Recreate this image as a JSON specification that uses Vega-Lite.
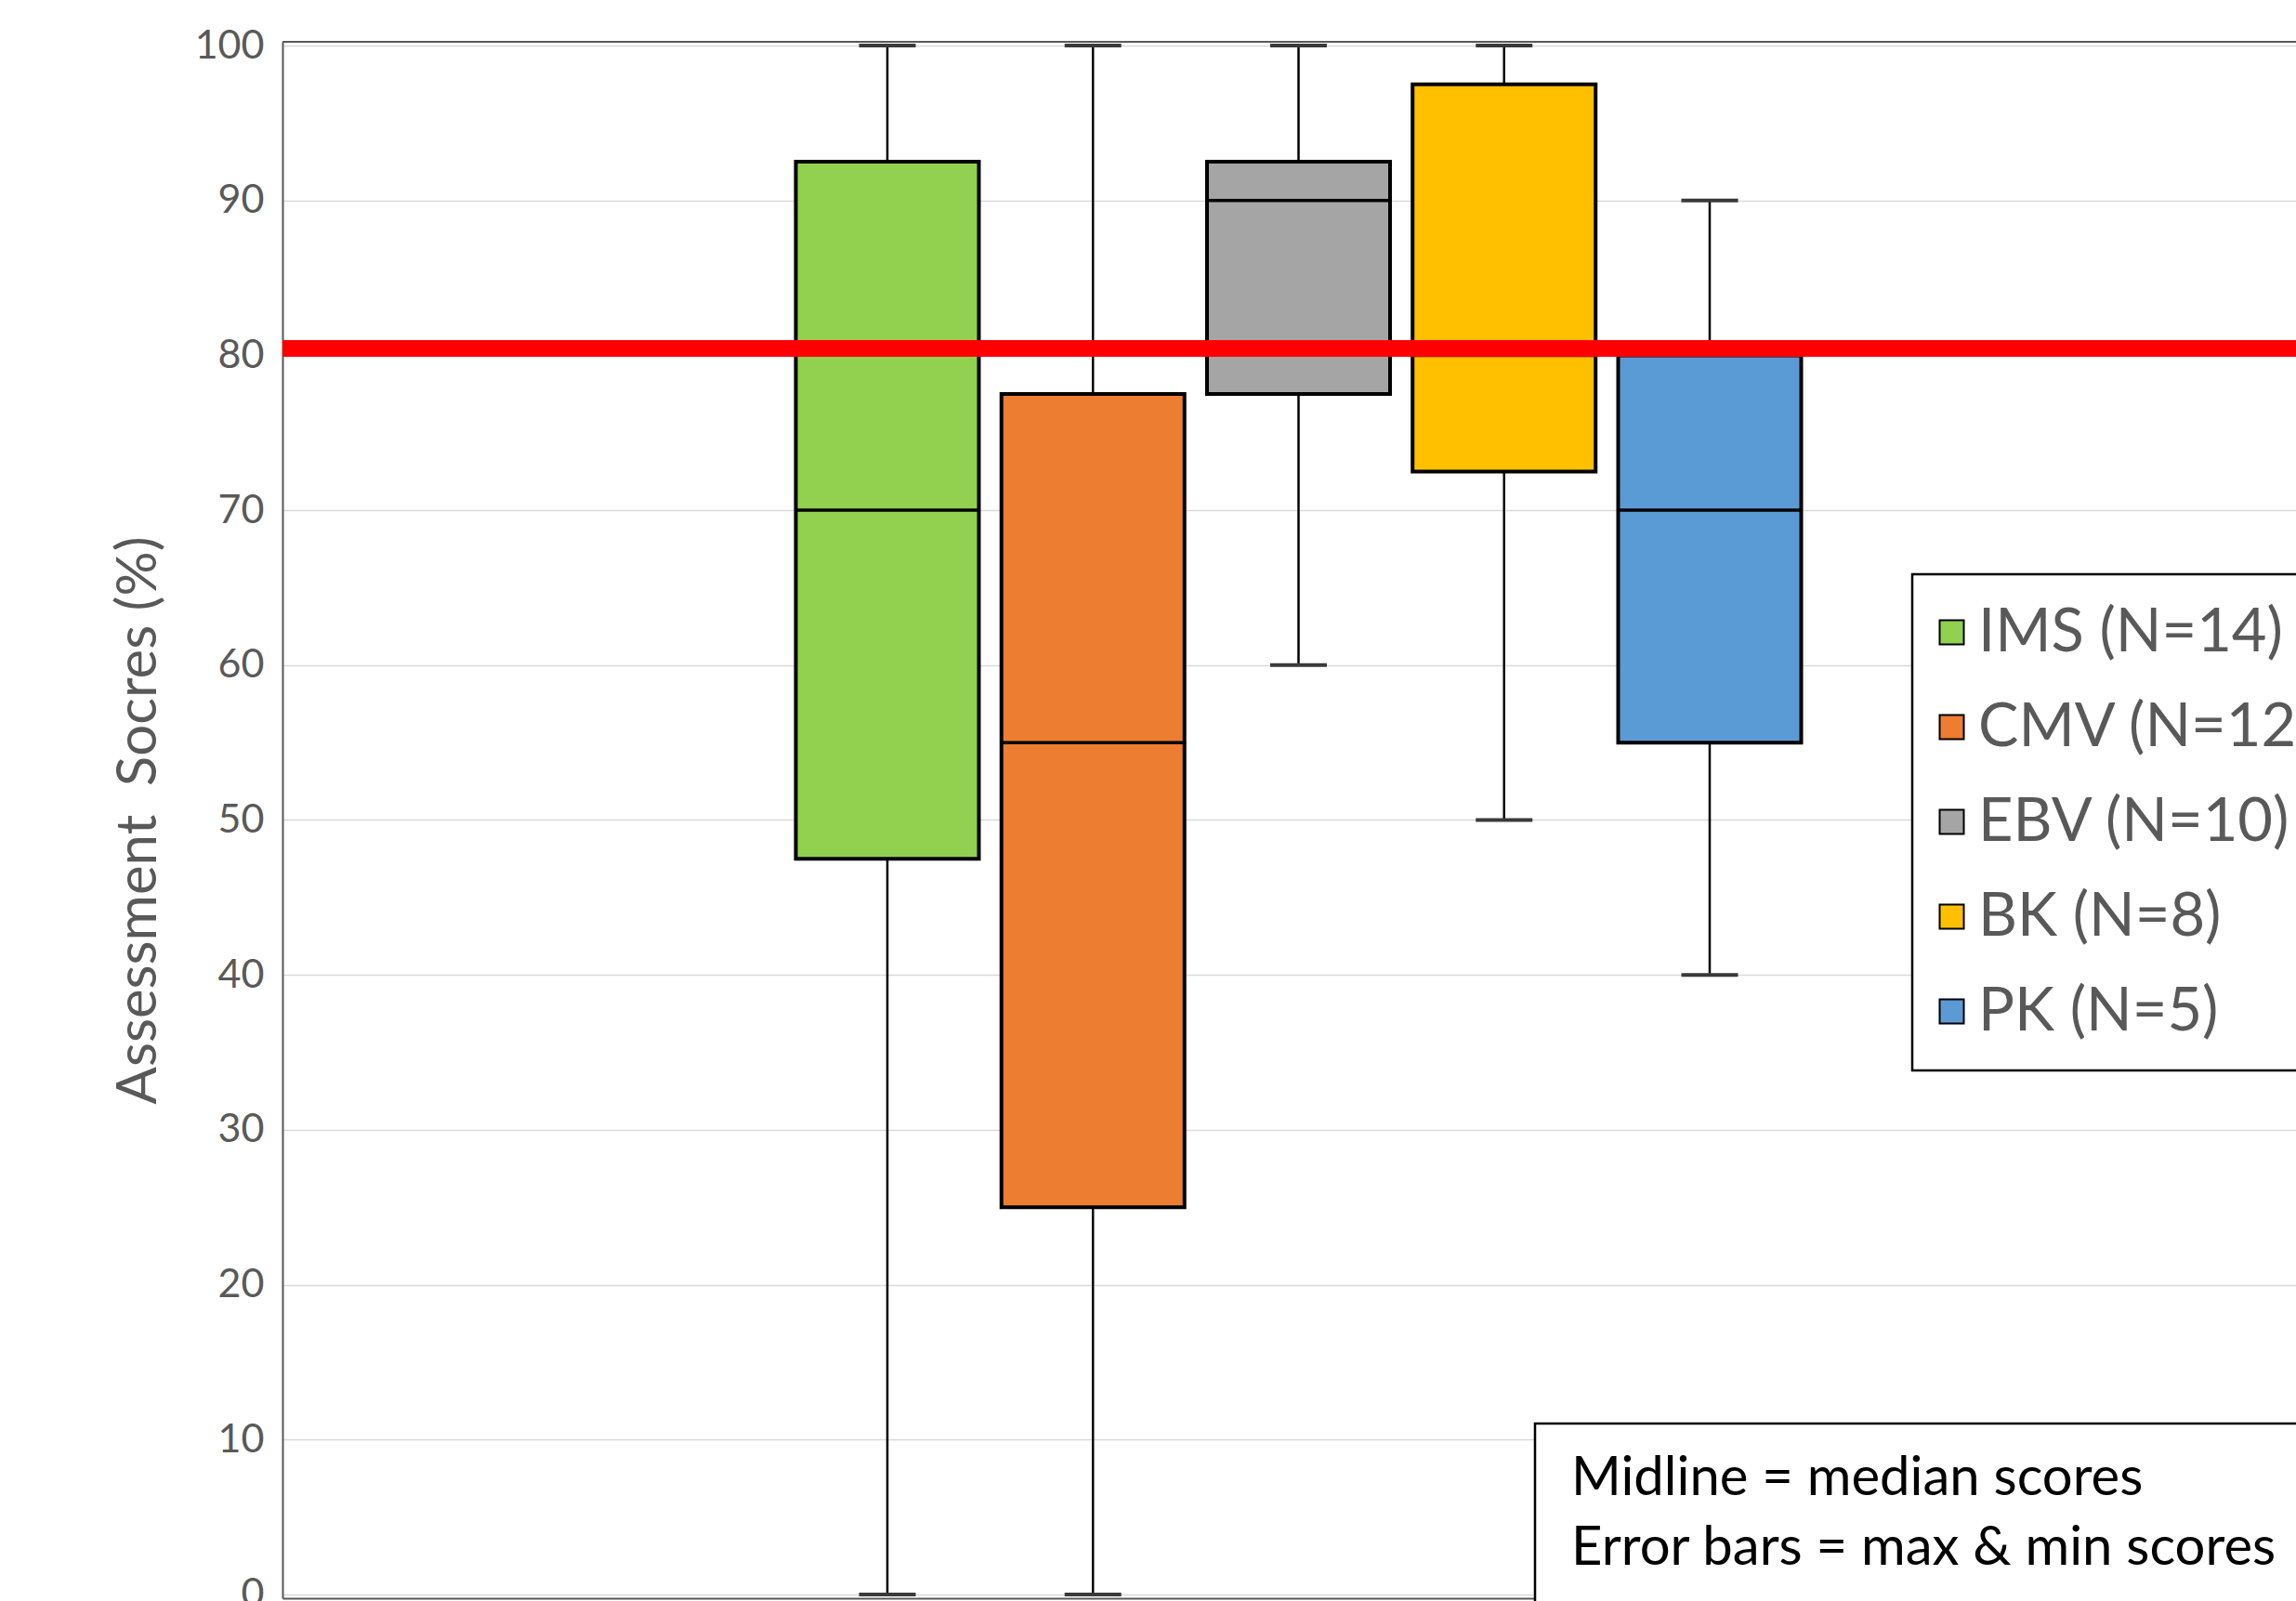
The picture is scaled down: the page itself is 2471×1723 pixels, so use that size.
{
  "$schema": "https://vega.github.io/schema/vega-lite/v6.json",
  "usermeta": {"embedOptions": {"actions": false}},
  "autosize": {"type": "none"},
  "width": 2167,
  "height": 1675,
  "padding": {"left": 304, "top": 45, "right": 0, "bottom": 3},
  "background": "white",
  "config": {
    "view": {"stroke": null},
    "font": "Lato",
    "axis": {"labelFont": "Lato", "titleFont": "Lato"},
    "legend": {"strokeWidth": 2.5}
  },
  "datasets": {
    "boxes": [
      {"group": "IMS (N=14)", "min": 0, "q1": 47.5, "median": 70, "q3": 92.5, "max": 100},
      {"group": "CMV (N=12)", "min": 0, "q1": 25, "median": 55, "q3": 77.5, "max": 100},
      {"group": "EBV (N=10)", "min": 60, "q1": 77.5, "median": 90, "q3": 92.5, "max": 100},
      {"group": "BK (N=8)", "min": 50, "q1": 72.5, "median": 80, "q3": 97.5, "max": 100},
      {"group": "PK (N=5)", "min": 40, "q1": 55, "median": 70, "q3": 80, "max": 90}
    ],
    "notes": [
      {"note": "Midline = median scores"},
      {"note": "Error bars = max & min scores"}
    ]
  },
  "data": {"name": "boxes"},
  "layer": [
    {
      "mark": {"type": "rule", "color": "black", "strokeWidth": 2.5},
      "encoding": {
        "x": {
          "field": "group", "type": "nominal",
          "scale": {
            "type": "band",
            "domain": ["pad1", "pad2", "IMS (N=14)", "CMV (N=12)", "EBV (N=10)", "BK (N=8)", "PK (N=5)", "pad3", "pad4"],
            "paddingInner": 0.1096, "paddingOuter": 0.452, "align": 0.55
          },
          "axis": {"orient": "bottom", "title": null, "labels": false, "ticks": false, "grid": false, "domain": true, "domainColor": "#595959", "domainWidth": 2}
        },
        "y": {
          "field": "min", "type": "quantitative",
          "scale": {"domain": [-0.24, 100.24], "nice": false, "zero": false},
          "axis": {
            "title": "Assessment\u00a0 Socres (%)",
            "titleFontSize": 60, "titleFontWeight": "normal", "titleColor": "#595959", "titlePadding": 29,
            "values": [0, 10, 20, 30, 40, 50, 60, 70, 80, 90, 100],
            "labelFontSize": 43, "labelColor": "#595959", "labelPadding": 20,
            "ticks": false,
            "domain": true, "domainColor": "#595959", "domainWidth": 2,
            "grid": true, "gridColor": "#d9d9d9", "gridWidth": 1.5
          }
        },
        "y2": {"field": "max"}
      }
    },
    {
      "mark": {"type": "rule", "color": "#595959", "strokeWidth": 2},
      "encoding": {"y": {"datum": 100.24, "type": "quantitative"}}
    },
    {
      "mark": {"type": "tick", "color": "#3a3a3a", "thickness": 4, "size": 61, "opacity": 1},
      "encoding": {
        "x": {"field": "group", "type": "nominal"},
        "y": {"field": "min", "type": "quantitative"}
      }
    },
    {
      "mark": {"type": "tick", "color": "#3a3a3a", "thickness": 4, "size": 61, "opacity": 1},
      "encoding": {
        "x": {"field": "group", "type": "nominal"},
        "y": {"field": "max", "type": "quantitative"}
      }
    },
    {
      "mark": {"type": "bar", "stroke": "black", "strokeWidth": 4, "opacity": 1},
      "encoding": {
        "x": {"field": "group", "type": "nominal"},
        "y": {"field": "q1", "type": "quantitative"},
        "y2": {"field": "q3"},
        "color": {
          "field": "group", "type": "nominal",
          "scale": {
            "domain": ["IMS (N=14)", "CMV (N=12)", "EBV (N=10)", "BK (N=8)", "PK (N=5)"],
            "range": ["#92d050", "#ed7d31", "#a5a5a5", "#ffc000", "#5b9bd5"]
          },
          "legend": {
            "orient": "none", "legendX": 1754, "legendY": 573,
            "title": null,
            "symbolType": "square", "symbolSize": 676, "symbolOffset": -20,
            "symbolStrokeColor": "black", "symbolStrokeWidth": 2, "symbolOpacity": 1,
            "labelFont": "Lato", "labelFontSize": 65, "labelColor": "#595959", "labelOffset": -4, "labelLimit": 0,
            "rowPadding": 36, "padding": 30,
            "strokeColor": "black", "fillColor": "white"
          }
        }
      }
    },
    {
      "mark": {"type": "tick", "color": "black", "thickness": 3.5, "size": 200, "opacity": 1},
      "encoding": {
        "x": {"field": "group", "type": "nominal"},
        "y": {"field": "median", "type": "quantitative"}
      }
    },
    {
      "mark": {"type": "rule", "color": "#ff0000", "strokeWidth": 17},
      "encoding": {"y": {"datum": 80.45, "type": "quantitative"}}
    },
    {
      "data": {"name": "notes"},
      "mark": {"type": "point", "opacity": 0},
      "encoding": {
        "shape": {
          "field": "note", "type": "nominal",
          "sort": ["Midline = median scores", "Error bars = max & min scores"],
          "legend": {
            "orient": "none", "legendX": 1348, "legendY": 1487,
            "title": null,
            "symbolSize": 0, "symbolOpacity": 0,
            "labelFont": "Lato", "labelFontSize": 58, "labelColor": "black", "labelOffset": -50, "labelLimit": 0,
            "rowPadding": 17, "padding": 31,
            "strokeColor": "black", "fillColor": "white"
          }
        }
      }
    }
  ]
}
